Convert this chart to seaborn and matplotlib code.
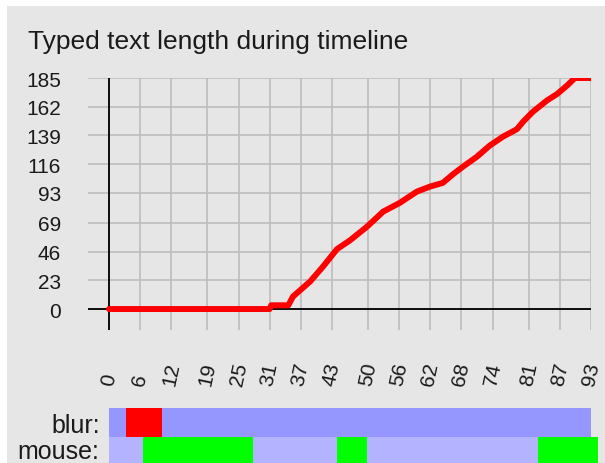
import matplotlib
matplotlib.use("Agg")
import matplotlib.pyplot as plt
from matplotlib.patches import Rectangle
import seaborn as sns
import pandas as pd

# typed text length over the timeline
time_s = [0, 31, 31.3, 34.6, 35.5, 38.8, 41.3, 44, 46.5, 49.8, 52.9, 56.1, 59.4,
          61.9, 64.4, 66.4, 68.3, 71, 73.5, 76, 78.7, 79.9, 81.8, 84.5, 86.4,
          88.4, 89.9, 93]
text_len = [0, 0, 3, 3, 10, 22, 34, 48, 55, 66, 78, 85, 94, 98, 101, 108, 114,
            122, 131, 138, 144, 150, 158, 167, 172, 179, 185, 185]

x_ticks = [0, 6, 12, 19, 25, 31, 37, 43, 50, 56, 62, 68, 74, 81, 87, 93]
y_ticks = [0, 23, 46, 69, 93, 116, 139, 162, 185]

# state strips under the chart
blur_start = [0, 3.3, 10.2]
blur_end = [3.3, 10.2, 93]
blur_state = ["off", "on", "off"]

mouse_start = [0, 6.5, 27.7, 44.0, 49.8, 82.7]
mouse_end = [6.5, 27.7, 44.0, 49.8, 82.7, 94.3]
mouse_state = ["off", "on", "off", "on", "off", "on"]

blur_colors = {"off": "#9696ff", "on": "#ff0000"}
mouse_colors = {"off": "#b3b3ff", "on": "#00ff00"}

sns.set_style("white")
plt.rcParams["font.family"] = ["Liberation Sans", "DejaVu Sans"]

W, H = 605, 464
fig = plt.figure(figsize=(W / 100, H / 100), dpi=100, facecolor="white")
fig.patches.append(Rectangle((7 / W, 0), 1, (H - 7) / H, transform=fig.transFigure,
                             facecolor="#e6e6e6", edgecolor="none", zorder=-1))

fig.text(28 / W, 1 - 48.5 / H, "Typed text length during timeline",
         fontsize=19, color="#1a1a1a", ha="left", va="baseline")

# main chart
ax = fig.add_axes([88 / W, (H - 331) / H, (591 - 88) / W, (331 - 79) / H])
ax.set_facecolor("none")
df = pd.DataFrame({"time": time_s, "length": text_len})
sns.lineplot(data=df, x="time", y="length", ax=ax, color="#ff0000", lw=4.3,
             estimator=None, sort=False, zorder=3)
ax.axhline(0, color="black", lw=1.3, zorder=2)
ax.axvline(0, color="black", lw=1.3, zorder=2)

ax.set_xlim(-4.05, 93)
ax.set_ylim(-16.8, 185)
ax.set_xticks(x_ticks)
ax.set_yticks(y_ticks)
ax.set_xticklabels([str(v) for v in x_ticks])
ax.set_yticklabels([str(v) for v in y_ticks])
ax.grid(True, color="#bcbcbc", lw=1.2)
ax.set_axisbelow(True)
for s in ax.spines.values():
    s.set_visible(False)
ax.set_xlabel("")
ax.set_ylabel("")
ax.tick_params(axis="y", length=0, pad=19.5, labelsize=15, labelcolor="#1a1a1a")
ax.tick_params(axis="x", length=0, pad=41, labelsize=15, labelcolor="#1a1a1a")
for lab in ax.get_xticklabels():
    lab.set_rotation(78)
    lab.set_va("bottom")
    lab.set_ha("center")

# blur / mouse strips
ax2 = fig.add_axes([108 / W, (H - 467) / H, (W - 108) / W, 58 / H])
ax2.set_facecolor("none")
ax2.barh([1] * len(blur_start), [e - s for s, e in zip(blur_start, blur_end)],
         left=blur_start, height=1, color=[blur_colors[s] for s in blur_state],
         edgecolor="none")
ax2.barh([0] * len(mouse_start), [e - s for s, e in zip(mouse_start, mouse_end)],
         left=mouse_start, height=1, color=[mouse_colors[s] for s in mouse_state],
         edgecolor="none")
ax2.set_xlim(-1 / 5.183, (W - 109) / 5.183)
ax2.set_ylim(-0.5, 1.5)
ax2.set_xticks([])
ax2.set_yticks([0.12, 1])
ax2.set_yticklabels(["mouse:", "blur:"])
ax2.tick_params(axis="y", length=0, pad=6, labelsize=18, labelcolor="#1a1a1a")
for s in ax2.spines.values():
    s.set_visible(False)

fig.savefig("out.png", dpi=100)
